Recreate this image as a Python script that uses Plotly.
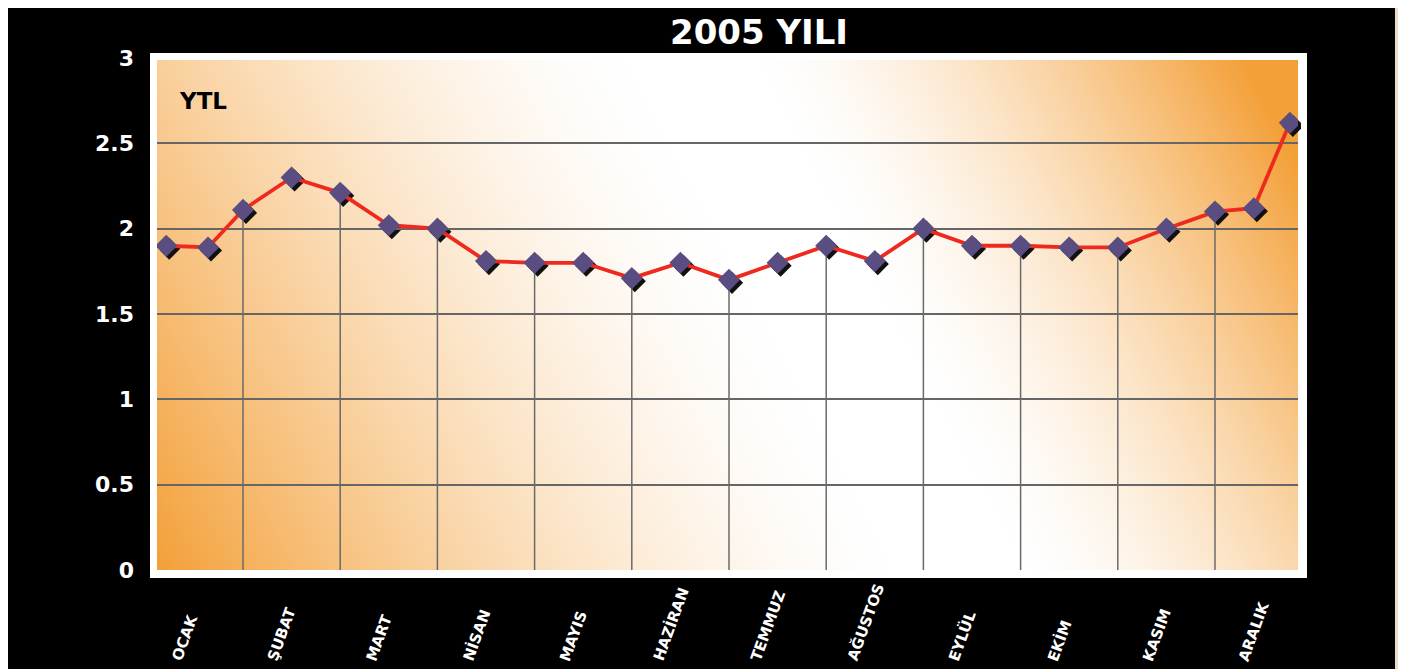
import numpy as np
import zlib, struct, base64
import plotly.graph_objects as go

# ---------------- data ----------------
months = ["OCAK", "ŞUBAT", "MART", "NİSAN", "MAYIS", "HAZİRAN",
          "TEMMUZ", "AĞUSTOS", "EYLÜL", "EKİM", "KASIM", "ARALIK"]
# position of each observation, in months from the start of the year
x_month = [0.21, 0.64, 1.0, 1.5, 2.0, 2.5, 3.0, 3.5, 4.0, 4.5, 5.0, 5.5,
           6.0, 6.5, 7.0, 7.5, 8.0, 8.5, 9.0, 9.5, 10.0, 10.5, 11.0, 11.4, 11.77]
ytl = [1.90, 1.89, 2.11, 2.30, 2.21, 2.02, 2.00, 1.81, 1.80, 1.80, 1.71, 1.80,
       1.70, 1.80, 1.90, 1.81, 2.00, 1.90, 1.90, 1.89, 1.89, 2.00, 2.10, 2.12, 2.62]
y_ticks = [0, 0.5, 1, 1.5, 2, 2.5, 3]
y_tick_text = ["0", "0.5", "1", "1.5", "2", "2.5", "3"]
grid_vals = [0.5, 1, 1.5, 2, 2.5]

# ---------------- geometry (page px; the page body adds an 8px offset) ----------------
OFF = 8
W, H = 1406, 669
PW, PH = 1144, 515
ML = 157 - OFF
MT = 58 - OFF
MR = W - ML - PW
MB = H - MT - PH
SH = 3  # shadow offset in px
dx, dy = SH / PW, SH / PH
XR = [0.1152, 11.854]
YR = [0, 3]


def px_x(p):
    return (p - OFF - ML) / PW


def px_y(p):
    return (H - MB - (p - OFF)) / PH


# ---------------- background gradient image ----------------
ox, oy, iw, ih = 150, 53, 1157, 525
PX, PY = np.meshgrid(np.arange(iw) + ox, np.arange(ih) + oy)
s = (PX - 690) * 0.884 + (PY - 60) * (-0.468)
f = np.where(s < 0, (-s - 60) / 650.0, (s - 60) / 430.0)
f = np.clip(f, 0, 1) ** 1.5
orange = np.array([244, 160, 56], dtype=float)
img = 255 - f[..., None] * (255 - orange)
border = (PX < 157) | (PX >= 1298) | (PY < 60) | (PY >= 570)
img[border] = 255
img = img.astype(np.uint8)


def to_png(a):
    h, w, _ = a.shape
    raw = b"".join(b"\x00" + a[i].tobytes() for i in range(h))

    def chunk(t, d):
        c = struct.pack(">I", len(d)) + t + d
        return c + struct.pack(">I", zlib.crc32(t + d) & 0xffffffff)
    return (b"\x89PNG\r\n\x1a\n" + chunk(b"IHDR", struct.pack(">IIBBBBB", w, h, 8, 2, 0, 0, 0))
            + chunk(b"IDAT", zlib.compress(raw, 9)) + chunk(b"IEND", b""))


src = "data:image/png;base64," + base64.b64encode(to_png(img)).decode()

# ---------------- traces ----------------
drop_x, drop_y = [], []
for xv, yv in zip(x_month, ytl):
    if float(xv).is_integer():
        drop_x += [xv, xv, None]
        drop_y += [0, yv, None]

fig = go.Figure()
# marker shadows (subplot drawn first, shifted a few px right/down)
fig.add_trace(go.Scatter(x=x_month, y=ytl, xaxis="x", yaxis="y", mode="markers",
                         marker=dict(symbol="diamond", size=17, color="#111111"),
                         hoverinfo="skip", showlegend=False))
# drop lines
fig.add_trace(go.Scatter(x=drop_x, y=drop_y, xaxis="x2", yaxis="y2", mode="lines",
                         line=dict(color="#6a6a6a", width=1.5),
                         hoverinfo="skip", showlegend=False))
# main line
fig.add_trace(go.Scatter(x=x_month, y=ytl, xaxis="x2", yaxis="y2", mode="lines+markers",
                         line=dict(color="#ee2a1e", width=3.8),
                         marker=dict(symbol="diamond", size=17, color="#5a4d82"),
                         showlegend=False))
# invisible trace for the label axis
fig.add_trace(go.Scatter(x=x_month, y=ytl, xaxis="x2", yaxis="y3", mode="markers",
                         marker=dict(opacity=0), hoverinfo="skip", showlegend=False))

bold = dict(family="DejaVu Sans", weight="bold")

annotations = []
for i, m in enumerate(months):
    annotations.append(dict(text=m, x=i + 0.4, xref="x2", y=px_y(666), yref="paper",
                            xanchor="center", yanchor="bottom", textangle=-70, showarrow=False,
                            font=dict(size=15, color="white", **bold)))
annotations.append(dict(text="YTL", x=px_x(203), y=px_y(101), xref="paper", yref="paper",
                        xanchor="center", yanchor="middle", showarrow=False,
                        font=dict(size=23, color="black", **bold)))

shapes = [
    dict(type="rect", xref="paper", yref="paper", x0=px_x(1395), x1=px_x(W + 20),
         y0=px_y(H + 20), y1=px_y(-20),
         fillcolor="#ecdcc8", line=dict(width=0), layer="below"),
]

fig.update_layout(
    width=W, height=H,
    margin=dict(l=ML, r=MR, t=MT, b=MB, pad=0),
    paper_bgcolor="black", plot_bgcolor="rgba(0,0,0,0)",
    title=dict(text="2005 YILI", x=(759 - OFF) / W, xref="container", xanchor="center",
               y=1 - (32 - OFF) / H, yref="container", yanchor="middle",
               font=dict(size=34, color="white", **bold)),
    xaxis=dict(domain=[dx, 1], visible=False, range=XR, anchor="y"),
    yaxis=dict(domain=[0, 1 - dy], visible=False, range=YR, anchor="x"),
    xaxis2=dict(domain=[0, 1 - dx], range=XR, anchor="y2", showgrid=False, zeroline=False,
                showticklabels=False, ticks="", showline=False),
    yaxis2=dict(domain=[dy, 1], range=YR, anchor="x2", tickvals=grid_vals, showgrid=True,
                gridcolor="#666666", gridwidth=1.6, zeroline=False, showticklabels=False,
                ticks="", showline=False),
    yaxis3=dict(overlaying="y2", anchor="x2", side="left", range=YR, tickvals=y_ticks,
                ticktext=y_tick_text, showgrid=False, zeroline=False, ticks="", showline=False,
                ticklabelstandoff=22, tickfont=dict(size=22, color="white", **bold)),
    images=[dict(source=src, xref="paper", yref="paper", x=px_x(ox), y=px_y(oy),
                 sizex=iw / PW, sizey=ih / PH, xanchor="left", yanchor="top",
                 sizing="stretch", layer="below")],
    shapes=shapes,
    annotations=annotations,
    showlegend=False,
)

fig.write_html("out.html")
